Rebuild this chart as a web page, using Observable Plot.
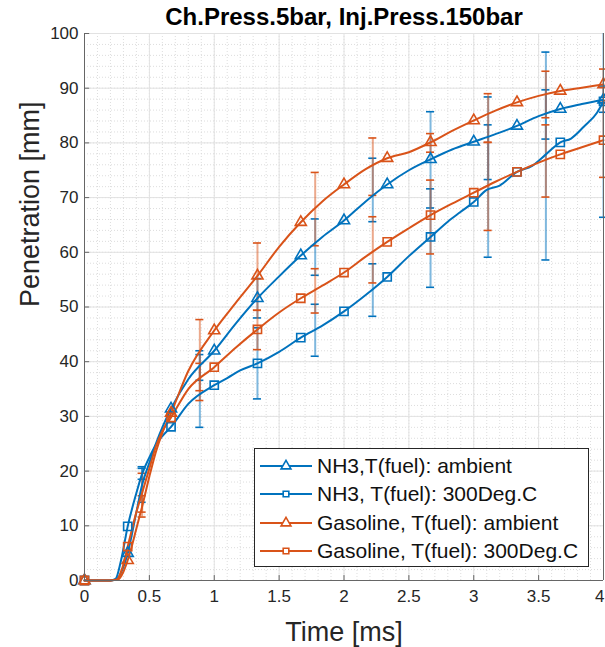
<!DOCTYPE html>
<html><head><meta charset="utf-8">
<script src="https://cdn.jsdelivr.net/npm/d3@7"></script>
<script src="https://cdn.jsdelivr.net/npm/@observablehq/plot@0.6"></script>
<style>
body{margin:0;background:#fff;}
#wrap{position:relative;width:605px;height:647px;overflow:hidden;font-family:"Liberation Sans",Arial,sans-serif;}
#legend{position:absolute;left:254px;top:448px;width:333px;height:117px;border:1px solid #262626;background:#fff;box-sizing:content-box;}
.row{position:absolute;left:0;height:28px;display:flex;align-items:center;}
.row span{font-size:21px;color:#111;margin-left:4px;white-space:nowrap;}
</style></head><body><div id="wrap"></div>
<script>
// ---------- data ----------
const title = "Ch.Press.5bar, Inj.Press.150bar";
const xLabel = "Time [ms]";
const yLabel = "Penetration [mm]";
const seriesNames = ["NH3,T(fuel): ambient", "NH3, T(fuel): 300Deg.C", "Gasoline, T(fuel): ambient", "Gasoline, T(fuel): 300Deg.C"];
const xTicks = [0, 0.5, 1, 1.5, 2, 2.5, 3, 3.5, 4];
const yTicks = [0, 10, 20, 30, 40, 50, 60, 70, 80, 90, 100];

// marker positions (every 1/3 ms)
const markerTimes = [0, 0.333, 0.667, 1, 1.333, 1.667, 2, 2.333, 2.667, 3, 3.333, 3.667, 4];
const nh3AmbMarkers = [0, 5.0, 31.4, 42.0, 51.6, 59.4, 65.8, 72.4, 77.0, 80.2, 83.1, 86.2, 87.9];
const nh3HotMarkers = [0, 9.9, 28.1, 35.7, 39.7, 44.4, 49.2, 55.5, 62.8, 69.2, 74.7, 80.1, 87.6];
const gasAmbMarkers = [0, 3.7, 30.6, 45.7, 55.7, 65.5, 72.4, 77.2, 80.1, 84.1, 87.4, 89.5, 90.7];
const gasHotMarkers = [0, 6.2, 29.8, 39.0, 45.9, 51.6, 56.3, 61.9, 66.8, 70.9, 74.7, 77.9, 80.5];

// penetration curves
const nh3AmbT = [0, 0.1, 0.2, 0.25, 0.3, 0.333, 0.4, 0.444, 0.5, 0.55, 0.6, 0.667, 0.8, 1, 1.167, 1.333, 1.5, 1.667, 1.833, 2, 2.167, 2.333, 2.5, 2.667, 2.833, 3, 3.167, 3.333, 3.5, 3.667, 3.833, 4];
const nh3AmbV = [0, 0, 0, 0.3, 2.5, 5.0, 12.5, 17.5, 21.5, 25, 28, 31.4, 36.8, 42.0, 47.0, 51.6, 55.6, 59.4, 62.8, 65.8, 69.3, 72.4, 75.0, 77.0, 78.8, 80.2, 81.6, 83.1, 84.9, 86.2, 87.1, 87.9];
const nh3HotT = [0, 0.1, 0.2, 0.24, 0.28, 0.333, 0.4, 0.444, 0.5, 0.55, 0.6, 0.667, 0.8, 1, 1.1, 1.2, 1.333, 1.5, 1.667, 1.833, 2, 2.167, 2.333, 2.5, 2.667, 2.8, 2.9, 3, 3.1, 3.2, 3.333, 3.45, 3.556, 3.667, 3.75, 3.85, 3.95, 4];
const nh3HotV = [0, 0, 0, 0.3, 3.5, 9.9, 16, 19.5, 22.5, 24.8, 26.4, 28.1, 32.3, 35.7, 37.0, 38.4, 39.7, 41.8, 44.4, 46.6, 49.2, 52.2, 55.5, 59.3, 62.8, 65.6, 67.4, 69.2, 71.4, 72.2, 74.7, 75.8, 77.9, 80.1, 80.8, 83.0, 85.5, 87.6];
const gasAmbT = [0, 0.1, 0.2, 0.26, 0.3, 0.333, 0.4, 0.444, 0.5, 0.55, 0.6, 0.667, 0.8, 1, 1.167, 1.333, 1.5, 1.667, 1.833, 2, 2.167, 2.333, 2.5, 2.667, 2.833, 3, 3.167, 3.333, 3.5, 3.667, 3.833, 4];
const gasAmbV = [0, 0, 0, 0.2, 1.6, 3.7, 9.5, 13.5, 19, 23.5, 27, 30.6, 38.3, 45.7, 50.8, 55.7, 61.0, 65.5, 69.3, 72.4, 75.2, 77.2, 78.3, 80.1, 82.2, 84.1, 85.9, 87.4, 88.6, 89.5, 90.1, 90.7];
const gasHotT = [0, 0.1, 0.2, 0.25, 0.29, 0.333, 0.4, 0.444, 0.5, 0.55, 0.6, 0.667, 0.8, 1, 1.167, 1.333, 1.5, 1.667, 1.833, 2, 2.167, 2.333, 2.5, 2.667, 2.833, 3, 3.167, 3.333, 3.5, 3.667, 3.833, 4];
const gasHotV = [0, 0, 0, 0.2, 2.2, 6.2, 12.5, 16, 20.5, 24.5, 27.3, 29.8, 35.0, 39.0, 42.6, 45.9, 49.0, 51.6, 53.9, 56.3, 59.2, 61.9, 64.4, 66.8, 68.9, 70.9, 72.9, 74.7, 76.4, 77.9, 79.2, 80.5];

// error bars
const errTimes = [0.444, 0.889, 1.333, 1.778, 2.222, 2.667, 3.111, 3.556, 4];
const nh3AmbLo = [14.3, 36.6, 48.0, 55.8, 65.6, 68.1, 73.3, 80.7, 85.6];
const nh3AmbHi = [20.5, 42.0, 55.2, 66.1, 77.2, 85.7, 88.4, 89.7, 90.4];
const nh3HotLo = [18.5, 28.0, 33.2, 41.0, 48.3, 53.6, 59.1, 58.6, 66.4];
const nh3HotHi = [20.8, 41.3, 46.2, 50.5, 57.9, 71.6, 83.3, 96.6, 108];
const gasAmbLo = [11.6, 34.7, 49.4, 61.2, 70.4, 78.3, 80.1, 84.6, 87.7];
const gasAmbHi = [15.5, 47.7, 61.7, 74.6, 80.9, 81.7, 89.0, 93.1, 93.5];
const gasHotLo = [12.5, 32.9, 42.2, 48.9, 54.4, 59.7, 64.0, 70.1, 73.7];
const gasHotHi = [19.6, 39.7, 49.4, 57.0, 66.5, 73.2, 80.1, 83.3, 87.3];

// ---------- build ----------
const blue = "#0072BD", orange = "#D95319";
const series = [
  {name: seriesNames[0], color: blue, symbol: "triangle2", r: 5.3, t: nh3AmbT, v: nh3AmbV, m: nh3AmbMarkers, lo: nh3AmbLo, hi: nh3AmbHi},
  {name: seriesNames[1], color: blue, symbol: "square2", r: 5.2, t: nh3HotT, v: nh3HotV, m: nh3HotMarkers, lo: nh3HotLo, hi: nh3HotHi},
  {name: seriesNames[2], color: orange, symbol: "triangle2", r: 5.3, t: gasAmbT, v: gasAmbV, m: gasAmbMarkers, lo: gasAmbLo, hi: gasAmbHi},
  {name: seriesNames[3], color: orange, symbol: "square2", r: 5.2, t: gasHotT, v: gasHotV, m: gasHotMarkers, lo: gasHotLo, hi: gasHotHi}
];

const minorX = d3.range(0, 4.0001, 0.1).map(d => +d.toFixed(2));
const minorY = d3.range(0, 100.001, 2);
const capHalf = 0.031;
const font = "Liberation Sans, Arial, sans-serif";
const lastTick = xTicks[xTicks.length - 1];

const marks = [
  Plot.ruleX(minorX, {stroke: "#d4d4d4", strokeDasharray: "1,2", strokeWidth: 0.8}),
  Plot.ruleY(minorY, {stroke: "#d4d4d4", strokeDasharray: "1,2", strokeWidth: 0.8}),
  Plot.ruleX(xTicks, {stroke: "#e2e2e2", strokeWidth: 1}),
  Plot.ruleY(yTicks, {stroke: "#e2e2e2", strokeWidth: 1})
];

// error bars
for (const s of series) {
  const eb = errTimes.map((t, i) => ({t, lo: s.lo[i], hi: s.hi[i]}));
  marks.push(Plot.ruleX(eb, {x: "t", y1: "lo", y2: "hi", stroke: s.color, strokeOpacity: 0.5, strokeWidth: 2, clip: "frame"}));
  const caps = eb.flatMap(d => [{t: d.t, y: d.lo}, {t: d.t, y: d.hi}]).filter(d => d.y <= 100);
  marks.push(Plot.ruleY(caps, {y: "y", x1: d => d.t - capHalf, x2: d => d.t + capHalf, stroke: s.color, strokeWidth: 1.6}));
}
// curves
for (const s of series) {
  const cd = s.t.map((t, i) => ({t, v: s.v[i]}));
  marks.push(Plot.line(cd, {x: "t", y: "v", stroke: s.color, strokeWidth: 2, curve: "monotone-x"}));
}
// markers
for (const s of series) {
  const md = markerTimes.map((t, i) => ({t, v: s.m[i]}));
  marks.push(Plot.dot(md, {x: "t", y: "v", symbol: s.symbol, r: s.r, stroke: s.color, strokeWidth: 1.6, fill: "none"}));
}
// frame + inward ticks
marks.push(
  Plot.ruleX([0], {stroke: "#666"}),
  Plot.ruleX([4], {stroke: "#666"}),
  Plot.ruleY([0], {stroke: "#666"}),
  Plot.ruleX(xTicks, {y1: 0, y2: 0.9, stroke: "#666"}),
  Plot.ruleY(yTicks, {x1: 0, x2: 0.04, stroke: "#666"}),
  Plot.axisX({ticks: xTicks.filter(d => d !== lastTick), tickSize: 0, tickPadding: 9, tickFormat: d => String(d), label: null, fontSize: 17, fill: "#262626"}),
  Plot.text([lastTick], {x: d => d, frameAnchor: "bottom", dy: 16, dx: 1, textAnchor: "end", lineAnchor: "middle", text: d => String(d), fontSize: 17, fill: "#262626"}),
  Plot.axisY({ticks: yTicks, tickSize: 0, tickPadding: 6, tickFormat: d => String(d), label: null, fontSize: 17, fill: "#262626"}),
  Plot.text([title], {frameAnchor: "top", dy: -16, lineAnchor: "middle", fontSize: 24, fontWeight: "bold", fill: "#000"}),
  Plot.text([xLabel], {frameAnchor: "bottom", dy: 52, lineAnchor: "middle", fontSize: 27, fill: "#262626"}),
  Plot.text([yLabel], {frameAnchor: "left", dx: -54, rotate: -90, lineAnchor: "middle", fontSize: 27, fill: "#262626"})
);

const chart = Plot.plot({
  width: 605,
  height: 647,
  marginLeft: 84,
  marginRight: 2,
  marginTop: 33,
  marginBottom: 67,
  x: {domain: [0, 4]},
  y: {domain: [0, 100]},
  style: {fontFamily: font, fontSize: "17px", color: "#262626", background: "#fff", overflow: "visible"},
  marks
});
const wrap = document.getElementById("wrap");
wrap.appendChild(chart);

// legend
const legend = document.createElement("div");
legend.id = "legend";
series.forEach((s, i) => {
  const row = document.createElement("div");
  row.className = "row";
  row.style.top = (3 + i * 28.3) + "px";
  const svg = d3.create("svg").attr("width", 58).attr("height", 28);
  svg.append("line").attr("x1", 5).attr("x2", 57).attr("y1", 14).attr("y2", 14).attr("stroke", s.color).attr("stroke-width", 2);
  const sym = s.symbol === "triangle2" ? d3.symbolTriangle2 : d3.symbolSquare2;
  const size = s.symbol === "triangle2" ? 70 : 40;
  svg.append("path").attr("d", d3.symbol(sym, size)()).attr("transform", "translate(31,14)").attr("fill", "#fff").attr("stroke", s.color).attr("stroke-width", 1.6);
  row.appendChild(svg.node());
  const span = document.createElement("span");
  span.textContent = s.name;
  row.appendChild(span);
  legend.appendChild(row);
});
wrap.appendChild(legend);
</script></body></html>
